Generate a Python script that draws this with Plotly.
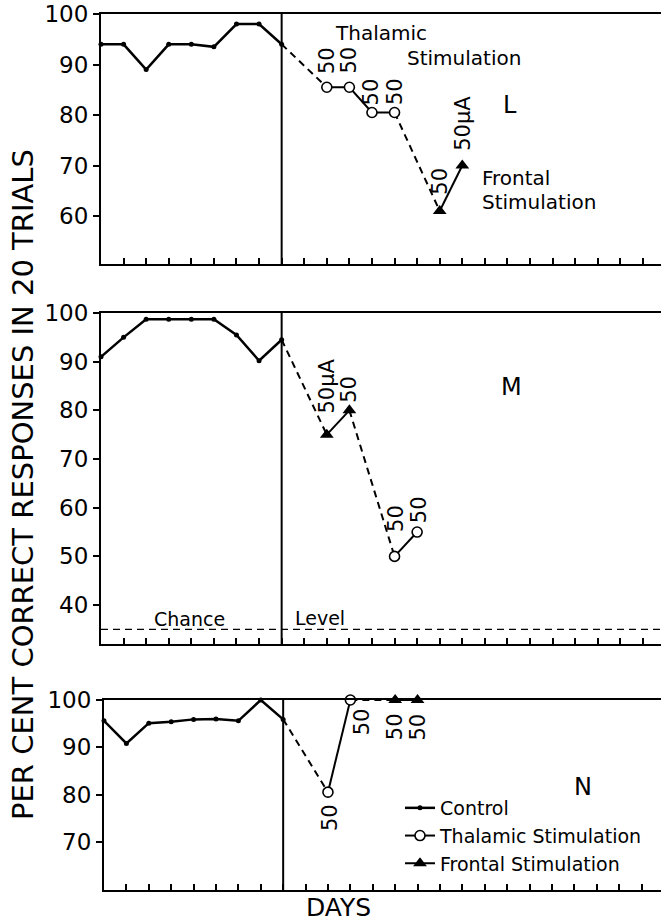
import plotly.graph_objects as go

# ---------------- data ----------------
ctrl_days = [0, 1, 2, 3, 4, 5, 6, 7, 8]
stim_start_day = 8
chance_level = 35

L_ctrl = [94, 94, 89, 94, 94, 93.5, 98, 98, 94]
L_thal_days = [10, 11, 12, 13]
L_thal = [85.5, 85.5, 80.5, 80.5]
L_thal_lbl = ["50", "50", "50", "50"]
L_front_days = [15, 16]
L_front = [61, 70]
L_front_lbl = ["50", "50µA"]

M_ctrl = [91, 95, 98.7, 98.7, 98.7, 98.7, 95.5, 90.2, 94.5]
M_thal_days = [13, 14]
M_thal = [50, 55]
M_thal_lbl = ["50", "50"]
M_front_days = [10, 11]
M_front = [75, 80]
M_front_lbl = ["50µA", "50"]

N_ctrl = [95.6, 90.8, 95.1, 95.4, 95.9, 96, 95.6, 100, 95.9]
N_thal_days = [10, 11]
N_thal = [80.5, 100]
N_thal_lbl = ["50", "50"]
N_front_days = [13, 14]
N_front = [100, 100]
N_front_lbl = ["50", "50"]

y_ticks_L = [60, 70, 80, 90, 100]
y_ticks_M = [40, 50, 60, 70, 80, 90, 100]
y_ticks_N = [70, 80, 90, 100]

# ---------------- styles ----------------
FONT = "DejaVu Sans"
W, H = 661, 924
panels = [
    dict(name="L", ctrl=L_ctrl, td=L_thal_days, tv=L_thal, tl=L_thal_lbl,
         fd=L_front_days, fv=L_front, fl=L_front_lbl,
         t_off=[(0, 27), (0, 27), (0, 21), (1, 21)], f_off=[(0, 30), (0, 42)],
         xs="x", ys="y"),
    dict(name="M", ctrl=M_ctrl, td=M_thal_days, tv=M_thal, tl=M_thal_lbl,
         fd=M_front_days, fv=M_front, fl=M_front_lbl,
         t_off=[(2, 38), (2, 22)], f_off=[(0, 49), (0, 21)],
         xs="x2", ys="y2"),
    dict(name="N", ctrl=N_ctrl, td=N_thal_days, tv=N_thal, tl=N_thal_lbl,
         fd=N_front_days, fv=N_front, fl=N_front_lbl,
         t_off=[(2, -25), (12, -22)], f_off=[(0, -27), (0, -27)],
         xs="x3", ys="y3"),
]

fig = go.Figure()
annotations = []
shapes = []


def runs(days, vals):
    out, cur = [], []
    for d, v in zip(days, vals):
        if cur and d - cur[-1][0] != 1:
            out.append(cur)
            cur = []
        cur.append((d, v))
    if cur:
        out.append(cur)
    return out


for i, p in enumerate(panels):
    last = i == len(panels) - 1
    xs, ys = p["xs"], p["ys"]
    # dashed connectors between sessions that are not consecutive
    seq = [(ctrl_days[-1], p["ctrl"][-1], "c")]
    seq += [(d, v, "t") for d, v in zip(p["td"], p["tv"])]
    seq += [(d, v, "f") for d, v in zip(p["fd"], p["fv"])]
    seq.sort(key=lambda s: s[0])
    dx, dy = [], []
    for a, b in zip(seq[:-1], seq[1:]):
        if b[0] - a[0] != 1 or a[2] != b[2]:
            dx += [a[0], b[0], None]
            dy += [a[1], b[1], None]
    fig.add_trace(go.Scatter(x=dx, y=dy, mode="lines", xaxis=xs, yaxis=ys,
                             line=dict(color="black", width=2, dash="7px,5px"),
                             showlegend=False, hoverinfo="skip", cliponaxis=False))
    # control
    fig.add_trace(go.Scatter(x=ctrl_days, y=p["ctrl"], mode="lines+markers",
                             xaxis=xs, yaxis=ys, name="Control",
                             line=dict(color="black", width=2.5),
                             marker=dict(color="black", size=5),
                             showlegend=last, legendrank=1, cliponaxis=False))
    # thalamic
    for k, r in enumerate(runs(p["td"], p["tv"])):
        fig.add_trace(go.Scatter(x=[a for a, _ in r], y=[b for _, b in r],
                                 mode="lines+markers", xaxis=xs, yaxis=ys,
                                 name="Thalamic Stimulation",
                                 line=dict(color="black", width=2),
                                 marker=dict(symbol="circle", size=10, color="white",
                                             line=dict(color="black", width=1.6)),
                                 showlegend=last and k == 0, legendrank=2,
                                 cliponaxis=False))
    # frontal
    for k, r in enumerate(runs(p["fd"], p["fv"])):
        fig.add_trace(go.Scatter(x=[a for a, _ in r], y=[b for _, b in r],
                                 mode="lines+markers", xaxis=xs, yaxis=ys,
                                 name="Frontal Stimulation",
                                 line=dict(color="black", width=2),
                                 marker=dict(symbol="triangle-up", size=12, color="black"),
                                 showlegend=last and k == 0, legendrank=3,
                                 cliponaxis=False))
    # current labels
    for days, vals, lbls, offs in [(p["td"], p["tv"], p["tl"], p["t_off"]),
                                   (p["fd"], p["fv"], p["fl"], p["f_off"])]:
        for d, v, t, (ox, oy) in zip(days, vals, lbls, offs):
            annotations.append(dict(x=d, y=v, xref=xs, yref=ys, text=t,
                                    textangle=-90, showarrow=False,
                                    xshift=ox, yshift=oy,
                                    xanchor="center", yanchor="middle",
                                    font=dict(family=FONT, size=21, color="black")))
    # stimulation start line
    shapes.append(dict(type="line", xref=xs, yref=ys + " domain",
                       x0=stim_start_day, x1=stim_start_day, y0=0, y1=1,
                       line=dict(color="black", width=2)))

# chance level
shapes.append(dict(type="line", xref="x2 domain", yref="y2", x0=0, x1=1,
                   y0=chance_level, y1=chance_level,
                   line=dict(color="black", width=1.3, dash="7px,5px")))


def txt(x, y, t, xr, yr, size=20, xa="left"):
    annotations.append(dict(x=x, y=y, xref=xr, yref=yr, text=t, showarrow=False,
                            xanchor=xa, yanchor="middle",
                            font=dict(family=FONT, size=size, color="black")))


txt(10.27, 96.2, "Thalamic", "x", "y")
txt(13.45, 91.3, "Stimulation", "x", "y")
txt(18.1, 82.0, "L", "x", "y", size=24, xa="center")
txt(16.77, 67.5, "Frontal", "x", "y")
txt(16.77, 62.8, "Stimulation", "x", "y")
txt(18.2, 84.8, "M", "x2", "y2", size=24, xa="center")
txt(3.94, 37.2, "Chance", "x2", "y2", size=19, xa="center")
txt(8.5, 37.4, "Level", "x2", "y2", size=19)
txt(21.4, 81.6, "N", "x3", "y3", size=24, xa="center")
txt(338 / W, 1 - 907 / H, "DAYS", "paper", "paper", size=25, xa="center")
annotations.append(dict(x=23 / W, y=1 - 485 / H, xref="paper", yref="paper",
                        text="PER CENT CORRECT RESPONSES IN 20 TRIALS",
                        textangle=-90, showarrow=False, xanchor="center",
                        yanchor="middle",
                        font=dict(family=FONT, size=29, color="black")))

xcommon = dict(showgrid=False, zeroline=False, showline=True, linecolor="black",
               linewidth=2, mirror=True, ticks="inside", ticklen=6, tickwidth=1.5,
               tickcolor="black", dtick=1, tick0=0, showticklabels=False,
               automargin=False)
ycommon = dict(showgrid=False, zeroline=False, showline=True, linecolor="black",
               linewidth=2, mirror=False, ticks="outside", ticklen=6, tickwidth=1.5,
               tickcolor="black", tickfont=dict(family=FONT, size=23, color="black"),
               automargin=False)

fig.update_layout(
    width=W, height=H, margin=dict(l=0, r=0, t=0, b=0, autoexpand=False),
    paper_bgcolor="white", plot_bgcolor="white",
    font=dict(family=FONT, color="black"),
    xaxis=dict(xcommon, domain=[101 / W, 1], range=[0, 24.8], anchor="y"),
    xaxis2=dict(xcommon, domain=[101 / W, 1], range=[0, 24.8], anchor="y2"),
    xaxis3=dict(xcommon, domain=[104 / W, 1], range=[0, 24.87], anchor="y3"),
    yaxis=dict(ycommon, domain=[1 - 264 / H, 1 - 14 / H], range=[50.5, 100],
               tickvals=y_ticks_L, anchor="x"),
    yaxis2=dict(ycommon, domain=[1 - 644 / H, 1 - 313 / H], range=[32, 100],
                tickvals=y_ticks_M, anchor="x2"),
    yaxis3=dict(ycommon, domain=[1 - 890 / H, 1 - 700 / H], range=[59.8, 100],
                tickvals=y_ticks_N, anchor="x3"),
    legend=dict(x=400 / W, y=1 - 789 / H, xanchor="left", yanchor="top",
                font=dict(family=FONT, size=19, color="black"),
                bgcolor="rgba(0,0,0,0)", tracegroupgap=0),
    annotations=annotations, shapes=shapes, showlegend=True,
)

fig.write_html("out.html")
